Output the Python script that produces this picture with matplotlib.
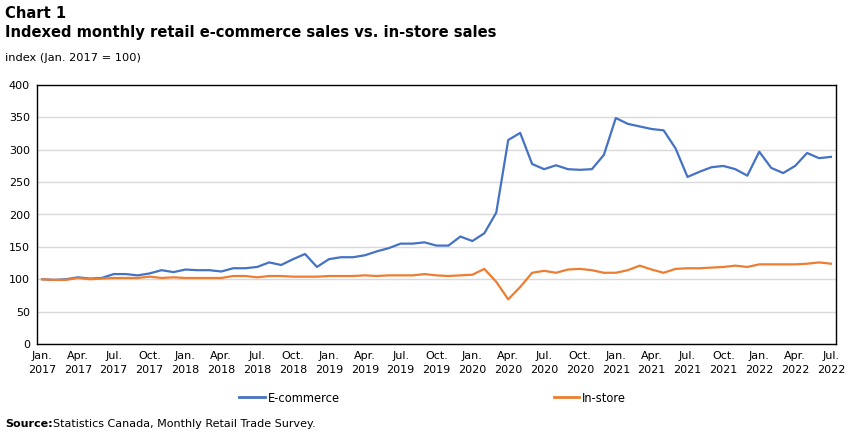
import matplotlib
matplotlib.use("Agg")
import matplotlib.pyplot as plt
from matplotlib.lines import Line2D

months = ["Jan.", "Feb.", "Mar.", "Apr.", "May", "Jun.", "Jul.", "Aug.", "Sep.", "Oct.", "Nov.", "Dec."]
years = [2017, 2018, 2019, 2020, 2021, 2022]
categories = [f"{m}\n{y}" for y in years for m in months][:67]

ecommerce = [100, 99, 100, 103, 101, 102, 108, 108, 106, 109, 114, 111,
             115, 114, 114, 112, 117, 117, 119, 126, 122, 131, 139, 119,
             131, 134, 134, 137, 143, 148, 155, 155, 157, 152, 152, 166,
             159, 171, 203, 315, 326, 278, 270, 276, 270, 269, 270, 292,
             349, 340, 336, 332, 330, 302, 258, 266, 273, 275, 270, 260,
             297, 272, 264, 275, 295, 287, 289]
instore = [100, 99, 99, 102, 100, 101, 102, 102, 102, 104, 102, 103,
           102, 102, 102, 102, 105, 105, 103, 105, 105, 104, 104, 104,
           105, 105, 105, 106, 105, 106, 106, 106, 108, 106, 105, 106,
           107, 116, 96, 69, 88, 110, 113, 110, 115, 116, 114, 110,
           110, 114, 121, 115, 110, 116, 117, 117, 118, 119, 121, 119,
           123, 123, 123, 123, 124, 126, 124]
series_names = ["E-commerce", "In-store"]
yticks = [0, 50, 100, 150, 200, 250, 300, 350, 400]

blue = "#4472C4"
orange = "#ED7D31"

fig = plt.figure(figsize=(8.52, 4.36), dpi=100)
ax = fig.add_axes([37/852, 1-344/436, (836-37)/852, (344-85)/436])

x = list(range(len(ecommerce)))
ax.plot(x, ecommerce, color=blue, lw=1.6, solid_joinstyle="round")
ax.plot(x, instore, color=orange, lw=1.6, solid_joinstyle="round")

ax.set_ylim(0, 400)
ax.set_xlim(-0.42, len(x) - 1 + 0.42)
ax.set_yticks(yticks)
ax.set_yticklabels([str(v) for v in yticks], fontsize=8)
tick_idx = list(range(0, len(x), 3))
ax.set_xticks(tick_idx)
ax.set_xticklabels([categories[i] for i in tick_idx], fontsize=8, linespacing=1.45)
ax.tick_params(axis="both", length=0, pad=5, colors="black")
ax.grid(axis="y", color="#d9d9d9", lw=1)
ax.set_axisbelow(True)
for s in ax.spines.values():
    s.set_color("black")
    s.set_linewidth(1)

fig.text(5/852, 1-13/436, "Chart 1", fontsize=10.6, fontweight="bold", va="center", ha="left")
fig.text(5/852, 1-32/436, "Indexed monthly retail e-commerce sales vs. in-store sales",
         fontsize=10.6, fontweight="bold", va="center", ha="left")
fig.text(5/852, 1-58/436, "index (Jan. 2017 = 100)", fontsize=8.2, va="center", ha="left")

handles = [Line2D([], [], color=blue, lw=2), Line2D([], [], color=orange, lw=2)]
fig.legend(handles, series_names, loc="center", bbox_to_anchor=(0.508, 1-398/436), ncol=2,
           frameon=False, fontsize=8.3, handlelength=2.2, handletextpad=0.3, columnspacing=18.5,
           borderpad=0, borderaxespad=0)

fig.text(5/852, 1-424/436, "Source:", fontsize=8, fontweight="bold", va="center", ha="left")
fig.text(53/852, 1-424/436, "Statistics Canada, Monthly Retail Trade Survey.", fontsize=8,
         va="center", ha="left")

fig.savefig("out.png", dpi=100)
